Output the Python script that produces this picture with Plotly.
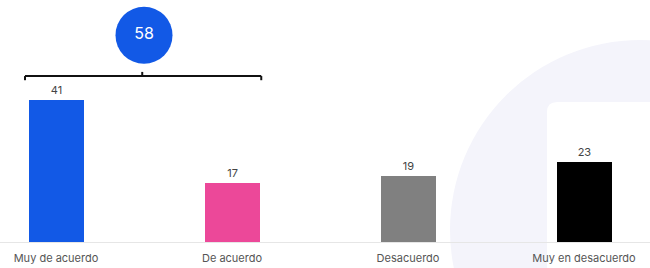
import plotly.graph_objects as go

categories = ["Muy de acuerdo", "De acuerdo", "Desacuerdo", "Muy en desacuerdo"]
values = [41, 17, 19, 23]
colors = ["#1259e6", "#ec4899", "#808080", "#000000"]
group_total = 58

xpos = list(range(len(categories)))
bw = 0.3125

fig = go.Figure()
fig.add_trace(go.Bar(
    x=xpos, y=values, width=bw,
    marker=dict(color=colors, line=dict(width=0)),
    text=[str(v) for v in values], textposition="outside",
    textfont=dict(family="Inter, Roboto, sans-serif", size=11, color="#444444"),
    cliponaxis=False, hoverinfo="skip",
))

# bracket over first two bars
by = 48.0
x0 = xpos[0] - bw / 2 - 0.02
x1 = xpos[1] + bw / 2 + 0.01
xm = (xpos[0] + xpos[1]) / 2
br = dict(color="#111111", width=2)
fig.add_shape(type="line", x0=x0, x1=x1, y0=by, y1=by, xref="x", yref="y", line=br)
fig.add_shape(type="line", x0=x0, x1=x0, y0=by, y1=by - 1.2, xref="x", yref="y", line=br)
fig.add_shape(type="line", x0=x1, x1=x1, y0=by, y1=by - 1.2, xref="x", yref="y", line=br)
fig.add_shape(type="line", x0=xm - 0.01, x1=xm - 0.01, y0=by, y1=by + 1.2, xref="x", yref="y", line=br)

# circle with total
fig.add_trace(go.Scatter(
    x=[xm], y=[59.8], mode="markers+text",
    marker=dict(size=57, color="#1259e6", line=dict(width=0)),
    text=[str(group_total)], textposition="middle center",
    textfont=dict(family="Inter, Roboto, sans-serif", size=16, color="white"),
    hoverinfo="skip", cliponaxis=False,
))

# faint watermark background (paper coords, plot area 650 x 242 px)
def px(x):
    return x / 650

def py(y):
    return 1 - y / 242

fig.add_shape(type="circle", xref="paper", yref="paper",
              x0=px(450), x1=px(830), y0=py(420), y1=py(40),
              fillcolor="#f4f4fb", line=dict(width=0), layer="below")
r = 10
path = (f"M {px(547)},{py(300)} L {px(547)},{py(102 + r)} "
        f"Q {px(547)},{py(102)} {px(547 + r)},{py(102)} "
        f"L {px(700)},{py(102)} L {px(700)},{py(300)} Z")
fig.add_shape(type="path", xref="paper", yref="paper", path=path,
              fillcolor="white", line=dict(width=0), layer="below")

fig.update_layout(
    width=650, height=268,
    margin=dict(l=0, r=0, t=0, b=26),
    paper_bgcolor="white", plot_bgcolor="rgba(0,0,0,0)",
    showlegend=False,
    bargap=0,
    xaxis=dict(
        range=[-56 / 176, -56 / 176 + 650 / 176],
        tickmode="array", tickvals=xpos, ticktext=categories,
        tickfont=dict(family="Inter, Roboto, sans-serif", size=11, color="#555555"),
        ticklabelstandoff=6,
        showgrid=False, zeroline=False, showline=True, linecolor="#e6e6e6", linewidth=1,
        ticks="", fixedrange=True,
    ),
    yaxis=dict(range=[0, 70], visible=False, fixedrange=True),
)

fig.write_html("out.html")
